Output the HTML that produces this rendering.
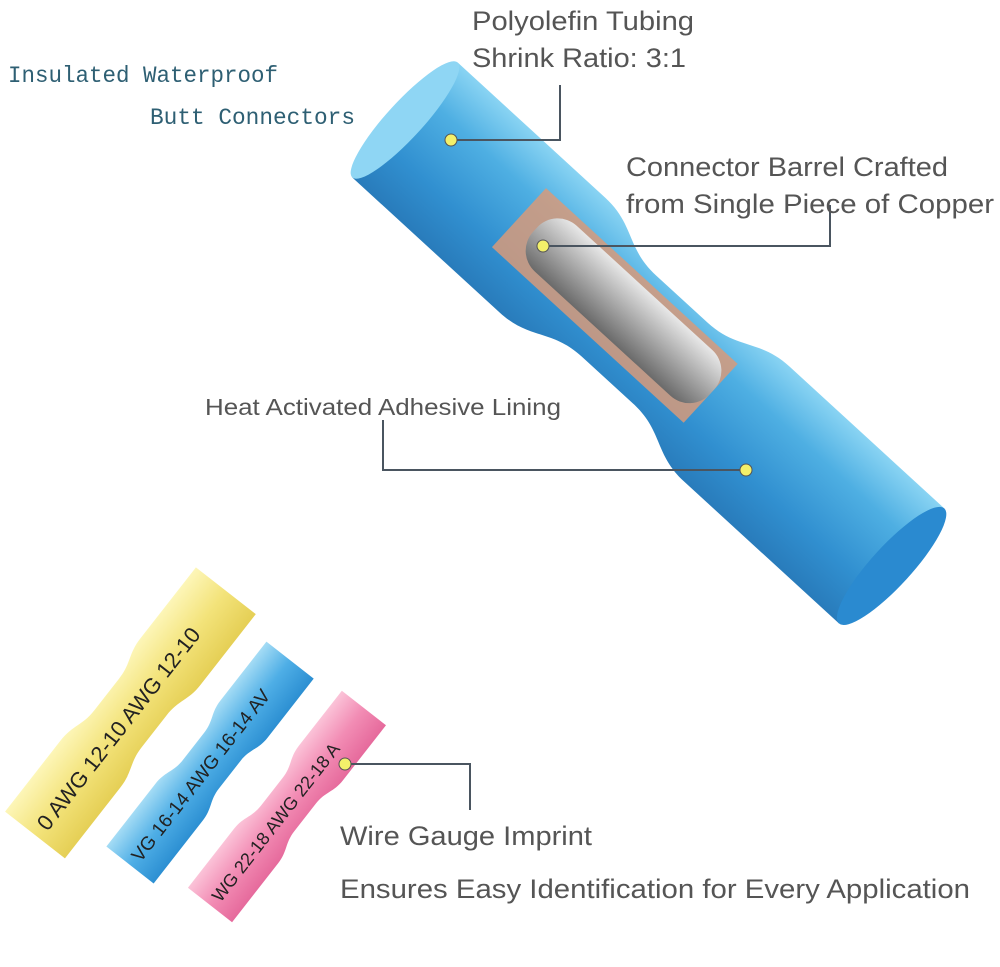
<!DOCTYPE html>
<html><head><style>
body{margin:0;width:1000px;height:962px;background:#fff;overflow:hidden;font-family:"Liberation Sans",sans-serif}
</style></head><body>
<svg width="1000" height="962" viewBox="0 0 1000 962" xmlns="http://www.w3.org/2000/svg">
<defs>
<linearGradient id="bl" x1="0" y1="0" x2="0" y2="1">
<stop offset="0" stop-color="#7fd0f2"/><stop offset="0.3" stop-color="#3fa8e0"/><stop offset="0.7" stop-color="#1f86cc"/><stop offset="1" stop-color="#1670b5"/></linearGradient>
<linearGradient id="cu" x1="0" y1="0" x2="0" y2="1">
<stop offset="0" stop-color="#e8e8e8"/><stop offset="0.5" stop-color="#a9a9a9"/><stop offset="1" stop-color="#6a6a6a"/></linearGradient>
<linearGradient id="ye" x1="0" y1="0" x2="0" y2="1">
<stop offset="0" stop-color="#fdf6b8"/><stop offset="0.5" stop-color="#f3e37a"/><stop offset="1" stop-color="#e5cf55"/></linearGradient>
<linearGradient id="sb" x1="0" y1="0" x2="0" y2="1">
<stop offset="0" stop-color="#a5dcf5"/><stop offset="0.5" stop-color="#4eaee6"/><stop offset="1" stop-color="#2c8fd2"/></linearGradient>
<linearGradient id="pk" x1="0" y1="0" x2="0" y2="1">
<stop offset="0" stop-color="#fbc3d8"/><stop offset="0.5" stop-color="#f28cb4"/><stop offset="1" stop-color="#e66a9c"/></linearGradient>
</defs>
<g transform="translate(405,120) rotate(42.5)">
<path d="M0,-78 L200,-78 C240,-78 250,-55 290,-55 L360,-55 C400,-55 410,-78 450,-78 L660,-78 L660,78 L450,78 C410,78 400,55 360,55 L290,55 C250,55 240,78 200,78 L0,78 Z" fill="url(#bl)" opacity="0.92"/>
<ellipse cx="660" cy="0" rx="20" ry="78" fill="#2a8ad0"/>
<ellipse cx="0" cy="0" rx="18" ry="78" fill="#8fd6f4"/>
<rect x="150" y="-45" width="260" height="80" fill="#d79a7a" opacity="0.85"/>
<rect x="170" y="-38" width="240" height="62" rx="28" fill="url(#cu)"/>
</g>
<g transform="translate(35,835) rotate(-52)">
<path d="M0,-38 L90,-38 C110,-38 115,-30 135,-30 L175,-30 C195,-30 200,-38 220,-38 L310,-38 L310,38 L220,38 C200,38 195,30 175,30 L135,30 C115,30 110,38 90,38 L0,38Z" fill="url(#ye)"/>
<text x="10" y="8" font-size="22" fill="#222">0 AWG  12-10 AWG  12-10</text>
</g>
<g transform="translate(130,865) rotate(-52)">
<path d="M0,-30 L80,-30 C95,-30 100,-23 115,-23 L150,-23 C165,-23 170,-30 185,-30 L260,-30 L260,30 L185,30 C170,30 165,23 150,23 L115,23 C100,23 95,30 80,30 L0,30Z" fill="url(#sb)"/>
<text x="8" y="7" font-size="19" fill="#222">VG 16-14 AWG  16-14 AV</text>
</g>
<g transform="translate(210,905) rotate(-52)">
<path d="M0,-28 L75,-28 C90,-28 95,-21 110,-21 L145,-21 C160,-21 165,-28 180,-28 L250,-28 L250,28 L180,28 C165,28 160,21 145,21 L110,21 C95,21 90,28 75,28 L0,28Z" fill="url(#pk)"/>
<text x="8" y="7" font-size="18" fill="#222">WG 22-18 AWG 22-18 A</text>
</g>
<g stroke="#4a5560" stroke-width="2" fill="none">
<polyline points="451,140 560,140 560,85"/>
<polyline points="543,246 830,246 830,205"/>
<polyline points="746,470 383,470 383,420"/>
<polyline points="345,764 470,764 470,810"/>
</g>
<g fill="#f3f06a" stroke="#555" stroke-width="1">
<circle cx="451" cy="140" r="6"/><circle cx="543" cy="246" r="6"/><circle cx="746" cy="470" r="6"/><circle cx="345" cy="764" r="6"/>
</g>
<g font-family="Liberation Sans, sans-serif" fill="#555" font-size="27">
<text x="472" y="30" textLength="222" lengthAdjust="spacingAndGlyphs">Polyolefin Tubing</text>
<text x="472" y="67" textLength="214" lengthAdjust="spacingAndGlyphs">Shrink Ratio: 3:1</text>
<text x="626" y="176" textLength="322" lengthAdjust="spacingAndGlyphs">Connector Barrel Crafted</text>
<text x="626" y="213" textLength="368" lengthAdjust="spacingAndGlyphs">from Single Piece of Copper</text>
<text x="205" y="415" font-size="23" textLength="356" lengthAdjust="spacingAndGlyphs">Heat Activated Adhesive Lining</text>
<text x="340" y="845" textLength="252" lengthAdjust="spacingAndGlyphs">Wire Gauge Imprint</text>
<text x="340" y="898" textLength="630" lengthAdjust="spacingAndGlyphs">Ensures Easy Identification for Every Application</text>
</g>
<g font-family="Liberation Mono, monospace" fill="#2e5f73" font-size="23">
<text x="8" y="82" textLength="270" lengthAdjust="spacingAndGlyphs">Insulated Waterproof</text>
<text x="150" y="124" textLength="205" lengthAdjust="spacingAndGlyphs">Butt Connectors</text>
</g>
</svg>
</body></html>
